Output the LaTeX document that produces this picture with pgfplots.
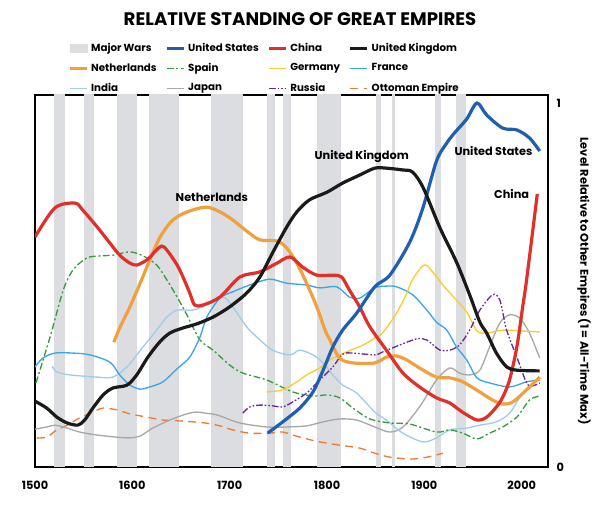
\documentclass[border=0pt]{standalone}
\usepackage{fontspec}
\setmainfont{Poppins}
\usepackage{pgfplots}
\pgfplotsset{compat=1.18}
\definecolor{cUS}{HTML}{1F5FB0}
\definecolor{cCN}{HTML}{E0302A}
\definecolor{cUK}{HTML}{1A1A1A}
\definecolor{cNL}{HTML}{F0A03C}
\definecolor{cES}{HTML}{3A9A40}
\definecolor{cDE}{HTML}{F8CC30}
\definecolor{cFR}{HTML}{3AA6E6}
\definecolor{cIN}{HTML}{9ECDE8}
\definecolor{cJP}{HTML}{A8A8A8}
\definecolor{cRU}{HTML}{6A2A9A}
\definecolor{cOT}{HTML}{F07A35}
\definecolor{cWar}{HTML}{DCDDE0}
\begin{document}
\begin{tikzpicture}
\useasboundingbox (-26.25pt,-27.75pt) rectangle (423.75pt,350.25pt);
\begin{axis}[
  at={(0,0)}, anchor=south west,
  scale only axis, width=384.75pt, height=279pt,
  xmin=1500, xmax=2027, ymin=0, ymax=1.022,
  axis line style={line width=1.8pt},
  xtick={1500,1600,...,2000}, ytick={0,1},
  yticklabel pos=right,
  major tick length=0pt,
  ticklabel style={font=\bfseries\fontsize{8.5}{9}\selectfont},
  /pgf/number format/assume math mode=true,
  xticklabel style={/pgf/number format/1000 sep={}, yshift=-7pt},
  yticklabel style={xshift=3pt},
  title={RELATIVE STANDING OF GREAT EMPIRES},
  title style={at={(0.5,1)}, anchor=center, yshift=51pt, xshift=6.4pt, font=\bfseries\fontsize{13.6}{15}\selectfont},
  ylabel={Level Relative to Other Empires (1 = All-Time Max)},
  every axis y label/.style={at={(rel axis cs:1,0.5)}, xshift=27pt, rotate=-90, anchor=center, font=\bfseries\fontsize{8.5}{9}\selectfont},
  legend columns=4,
  legend cell align=left,
  legend style={at={(0.5,1)}, anchor=south, xshift=-20pt, yshift=-3pt, draw=none, fill=none,
    font=\bfseries\fontsize{7.7}{9}\selectfont, row sep=3.3pt,
    /tikz/every even column/.append style={column sep=4.5pt}},
  legend image code/.code={\draw[#1] (0cm,0cm) -- (0.45cm,0cm);},
]
% legend
\addlegendimage{legend image code/.code={\fill[cWar] (0cm,-0.1cm) rectangle (0.45cm,0.1cm);}}
\addlegendentry{Major Wars}
\addlegendimage{cUS, line width=2.4pt}\addlegendentry{United States}
\addlegendimage{cCN, line width=2.4pt}\addlegendentry{China}
\addlegendimage{cUK, line width=2.4pt}\addlegendentry{United Kingdom}
\addlegendimage{cNL, line width=2.4pt}\addlegendentry{Netherlands}
\addlegendimage{cES, line width=1pt, dash pattern=on 5pt off 2pt on 1.5pt off 2pt}\addlegendentry{Spain}
\addlegendimage{cDE, line width=1pt}\addlegendentry{Germany}
\addlegendimage{cFR, line width=1pt}\addlegendentry{France}
\addlegendimage{cIN, line width=1pt}\addlegendentry{India}
\addlegendimage{cJP, line width=1pt}\addlegendentry{Japan}
\addlegendimage{cRU, line width=1pt, dash pattern=on 5pt off 1.5pt on 1.2pt off 1.5pt on 1.2pt off 1.5pt}\addlegendentry{Russia}
\addlegendimage{cOT, line width=1pt, dash pattern=on 6pt off 4pt}\addlegendentry{Ottoman Empire}
% wars
\addplot[fill=cWar, draw=none, forget plot] coordinates {(1520,0) (1520,1.1) (1531,1.1) (1531,0)} -- cycle;
\addplot[fill=cWar, draw=none, forget plot] coordinates {(1550,0) (1550,1.1) (1560.5,1.1) (1560.5,0)} -- cycle;
\addplot[fill=cWar, draw=none, forget plot] coordinates {(1584,0) (1584,1.1) (1605,1.1) (1605,0)} -- cycle;
\addplot[fill=cWar, draw=none, forget plot] coordinates {(1617,0) (1617,1.1) (1648,1.1) (1648,0)} -- cycle;
\addplot[fill=cWar, draw=none, forget plot] coordinates {(1681,0) (1681,1.1) (1713.5,1.1) (1713.5,0)} -- cycle;
\addplot[fill=cWar, draw=none, forget plot] coordinates {(1738,0) (1738,1.1) (1747,1.1) (1747,0)} -- cycle;
\addplot[fill=cWar, draw=none, forget plot] coordinates {(1754.5,0) (1754.5,1.1) (1763,1.1) (1763,0)} -- cycle;
\addplot[fill=cWar, draw=none, forget plot] coordinates {(1789.5,0) (1789.5,1.1) (1814,1.1) (1814,0)} -- cycle;
\addplot[fill=cWar, draw=none, forget plot] coordinates {(1850,0) (1850,1.1) (1855,1.1) (1855,0)} -- cycle;
\addplot[fill=cWar, draw=none, forget plot] coordinates {(1866.5,0) (1866.5,1.1) (1869.6,1.1) (1869.6,0)} -- cycle;
\addplot[fill=cWar, draw=none, forget plot] coordinates {(1911,0) (1911,1.1) (1917,1.1) (1917,0)} -- cycle;
\addplot[fill=cWar, draw=none, forget plot] coordinates {(1933,0) (1933,1.1) (1943,1.1) (1943,0)} -- cycle;
% Ottoman
\addplot[cOT, line width=1pt, dash pattern=on 6pt off 4pt, smooth, forget plot] coordinates {
(1502,0.080) (1512,0.082) (1522.5,0.102) (1533,0.115) (1546,0.135) (1559.5,0.151) (1570,0.162) (1584,0.157) (1597.5,0.146) (1615,0.137) (1631.5,0.129) (1652,0.126) (1674.5,0.121) (1690,0.113) (1703,0.102) (1720.5,0.093) (1741,0.093) (1754.5,0.096) (1772,0.082) (1792.5,0.069) (1813,0.060) (1833.5,0.052) (1849,0.038) (1864.5,0.027) (1885,0.022) (1898.5,0.025) (1912.5,0.033) (1919,0.038)};
% Japan
\addplot[cJP, line width=1pt, smooth, forget plot] coordinates {
(1500,0.104) (1512,0.110) (1520.5,0.115) (1529,0.110) (1546,0.096) (1563.5,0.088) (1584,0.082) (1597.5,0.080) (1608,0.085) (1621,0.107) (1638.5,0.129) (1656,0.146) (1666,0.151) (1674.5,0.148) (1687,0.143) (1710.5,0.121) (1738,0.110) (1758.5,0.110) (1779,0.113) (1796,0.124) (1813,0.132) (1830.5,0.129) (1849,0.110) (1864.5,0.096) (1878,0.110) (1895,0.165) (1912.5,0.239) (1926,0.272) (1936,0.258) (1946.5,0.253) (1957,0.266) (1967,0.330) (1977.5,0.396) (1987.5,0.418) (1998,0.409) (2008,0.368) (2018.5,0.299)};
% India
\addplot[cIN, line width=1pt, smooth, forget plot] coordinates {
(1517.5,0.277) (1522.5,0.261) (1536,0.253) (1563.5,0.247) (1580,0.247) (1594.5,0.275) (1611,0.330) (1625,0.376) (1635.5,0.412) (1646,0.431) (1662,0.431) (1676.5,0.445) (1693,0.467) (1703,0.440) (1717.5,0.385) (1728,0.357) (1744,0.321) (1762,0.308) (1772,0.321) (1785.5,0.308) (1796,0.286) (1806,0.253) (1816,0.225) (1830.5,0.203) (1849,0.151) (1861,0.129) (1878,0.093) (1898.5,0.069) (1912.5,0.080) (1926,0.102) (1943.5,0.107) (1957,0.115) (1974,0.124) (1987.5,0.148) (2001,0.203) (2018.5,0.247)};
% Spain
\addplot[cES, line width=1pt, dash pattern=on 5pt off 2pt on 1.5pt off 2pt, smooth, forget plot] coordinates {
(1501,0.231) (1515.5,0.357) (1529,0.486) (1539,0.541) (1553,0.574) (1567,0.580) (1580,0.582) (1597.5,0.591) (1611,0.580) (1625,0.555) (1635.5,0.514) (1646,0.467) (1656,0.418) (1669.5,0.349) (1683,0.321) (1700,0.280) (1713.5,0.258) (1738,0.239) (1765,0.206) (1785.5,0.195) (1800,0.198) (1813,0.190) (1826.5,0.162) (1844,0.132) (1864.5,0.121) (1885,0.118) (1912.5,0.096) (1926,0.102) (1939.5,0.093) (1954,0.077) (1967,0.093) (1980.5,0.110) (1995,0.137) (2008,0.184) (2018.5,0.195)};
% France
\addplot[cFR, line width=1pt, smooth, forget plot] coordinates {
(1500,0.275) (1508,0.299) (1520.5,0.313) (1539,0.313) (1556.5,0.308) (1577,0.288) (1587,0.253) (1597.5,0.225) (1608,0.214) (1618,0.220) (1631.5,0.234) (1646,0.270) (1659,0.302) (1669.5,0.357) (1676.5,0.412) (1690,0.464) (1703,0.481) (1720.5,0.500) (1741,0.516) (1758.5,0.505) (1779,0.500) (1792.5,0.492) (1810,0.495) (1823,0.467) (1833.5,0.464) (1849,0.492) (1861,0.497) (1871.5,0.495) (1888,0.473) (1902.5,0.431) (1912.5,0.398) (1923,0.376) (1933,0.330) (1943.5,0.294) (1954,0.245) (1967,0.231) (1987.5,0.220) (2005,0.234) (2018.5,0.239)};
% Germany
\addplot[cDE, line width=1pt, smooth, forget plot] coordinates {
(1738,0.206) (1754.5,0.212) (1769,0.234) (1779,0.253) (1792.5,0.272) (1806,0.299) (1820,0.316) (1837,0.335) (1849,0.354) (1857,0.368) (1871.5,0.423) (1882,0.478) (1888,0.516) (1900,0.555) (1908.5,0.536) (1919,0.500) (1929,0.470) (1943.5,0.426) (1954,0.374) (1964,0.368) (1980.5,0.376) (1998,0.374) (2018.5,0.371)};
% Russia
\addplot[cRU, line width=1pt, dash pattern=on 5pt off 1.5pt on 1.2pt off 1.5pt on 1.2pt off 1.5pt, smooth, forget plot] coordinates {
(1713.5,0.148) (1720.5,0.165) (1731,0.170) (1744,0.168) (1754.5,0.165) (1765,0.179) (1779,0.203) (1792.5,0.239) (1806,0.275) (1816,0.310) (1826.5,0.313) (1849,0.308) (1857,0.316) (1874.5,0.335) (1892,0.352) (1902.5,0.349) (1916,0.321) (1926,0.321) (1936,0.335) (1946.5,0.376) (1957,0.431) (1970,0.473) (1977.5,0.459) (1984.5,0.376) (1995,0.302) (2005,0.231) (2011,0.223) (2018.5,0.231)};
% Netherlands
\addplot[cNL, line width=2.4pt, smooth, forget plot] coordinates {
(1581,0.343) (1587,0.382) (1597.5,0.440) (1608,0.505) (1618,0.569) (1628,0.629) (1638.5,0.670) (1649,0.692) (1662,0.706) (1676.5,0.714) (1690,0.701) (1703,0.679) (1717.5,0.648) (1731,0.624) (1748.5,0.621) (1758.5,0.602) (1769,0.560) (1779,0.505) (1789.5,0.440) (1798,0.376) (1803,0.349) (1813,0.299) (1826.5,0.286) (1849,0.286) (1861,0.302) (1871.5,0.305) (1882,0.294) (1895,0.272) (1912.5,0.247) (1926,0.245) (1939.5,0.234) (1957,0.206) (1970,0.184) (1980.5,0.173) (1991,0.179) (2005,0.212) (2018.5,0.247)};
% China
\addplot[cCN, line width=2.4pt, smooth, forget plot] coordinates {
(1500,0.632) (1520.5,0.712) (1541,0.725) (1549,0.706) (1564,0.659) (1577,0.615) (1587,0.582) (1597.5,0.560) (1605,0.555) (1616,0.571) (1623,0.591) (1630,0.607) (1635.5,0.596) (1646,0.555) (1652,0.522) (1659,0.478) (1664,0.445) (1672.5,0.445) (1690,0.467) (1710.5,0.522) (1731,0.536) (1748.5,0.560) (1762,0.577) (1775,0.549) (1789.5,0.527) (1806,0.527) (1815,0.522) (1823,0.486) (1833.5,0.440) (1844,0.385) (1861,0.321) (1878,0.258) (1895,0.220) (1912.5,0.190) (1926,0.176) (1939,0.151) (1954,0.129) (1964,0.137) (1974,0.165) (1980.5,0.192) (1987.5,0.239) (1995,0.330) (2001,0.440) (2005,0.514) (2016,0.750)};
% US
\addplot[cUS, line width=2.4pt, smooth, forget plot] coordinates {
(1739,0.093) (1754.5,0.124) (1772,0.162) (1785.5,0.206) (1796,0.266) (1806,0.330) (1816,0.376) (1830.5,0.423) (1849,0.495) (1864.5,0.527) (1885,0.618) (1898.5,0.712) (1912.5,0.841) (1923,0.890) (1931,0.918) (1943.5,0.956) (1954,1.0) (1964,0.967) (1980.5,0.931) (1995,0.926) (2008,0.904) (2018.5,0.868)};
% UK
\addplot[cUK, line width=2.4pt, smooth, forget plot] coordinates {
(1500,0.181) (1512,0.162) (1522.5,0.137) (1533,0.121) (1544,0.115) (1551,0.129) (1559.5,0.162) (1570,0.198) (1580,0.217) (1594.5,0.225) (1604.5,0.253) (1616,0.302) (1628,0.343) (1638.5,0.368) (1652,0.382) (1666,0.393) (1683,0.412) (1700,0.440) (1717.5,0.478) (1731,0.522) (1744,0.588) (1758.5,0.659) (1769,0.701) (1782,0.734) (1800,0.755) (1816,0.780) (1833.5,0.802) (1849,0.821) (1861,0.821) (1878,0.816) (1888,0.810) (1899,0.766) (1916,0.657) (1933,0.563) (1946.5,0.473) (1957,0.398) (1964,0.368) (1974,0.313) (1984.5,0.275) (1995,0.266) (2018.5,0.264)};
% labels
\node[font=\bfseries\fontsize{8.5}{9}\selectfont] at (axis cs:1681.7,0.742) {Netherlands};
\node[font=\bfseries\fontsize{8.5}{9}\selectfont] at (axis cs:1835.7,0.852) {United Kingdom};
\node[font=\bfseries\fontsize{8.5}{9}\selectfont] at (axis cs:1971,0.868) {United States};
\node[font=\bfseries\fontsize{8.5}{9}\selectfont] at (axis cs:1989.7,0.75) {China};
\end{axis}
\end{tikzpicture}
\end{document}
